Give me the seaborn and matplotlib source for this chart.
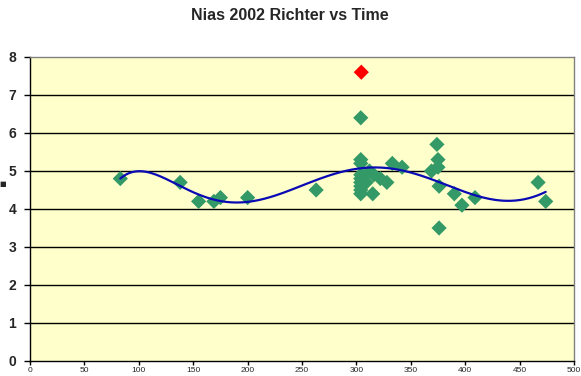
import numpy as np
import pandas as pd
import seaborn as sns
import matplotlib.pyplot as plt

# data
days = [83, 138, 155, 169, 175, 200, 263,
        304, 304, 304, 304, 304, 304, 304, 304, 304,
        309, 312, 315, 316, 322, 328, 333, 342,
        369, 374, 375, 375, 376, 376, 390, 397, 409, 467, 474]
richter = [4.8, 4.7, 4.2, 4.2, 4.3, 4.3, 4.5,
           6.4, 5.3, 5.2, 4.9, 4.8, 4.7, 4.6, 4.5, 4.4,
           4.7, 5.0, 4.4, 4.9, 4.8, 4.7, 5.2, 5.1,
           5.0, 5.7, 5.3, 5.1, 4.6, 3.5, 4.4, 4.1, 4.3, 4.7, 4.2]
main_day = [304.5]
main_richter = [7.6]

df = pd.DataFrame({"day": days, "richter": richter})
mdf = pd.DataFrame({"day": main_day, "richter": main_richter})

# polynomial trendline (order 6) over all points
allx = np.array(days + main_day, dtype=float)
ally = np.array(richter + main_richter, dtype=float)
coef = np.polyfit(allx / 100, ally, 6)
tx = np.linspace(allx.min(), allx.max(), 300)
tdf = pd.DataFrame({"day": tx, "richter": np.polyval(coef, tx / 100)})

sns.set_style("white")
plt.rcParams["font.family"] = ["Liberation Sans", "DejaVu Sans"]

fig = plt.figure(figsize=(5.81, 3.76), dpi=100)
ax = fig.add_axes([30 / 581, 1 - 361 / 376, 544 / 581, 304 / 376])
ax.set_facecolor("#FFFFCC")

for v in range(1, 8):
    ax.axhline(v, color="black", lw=1, zorder=1)

sns.lineplot(data=tdf, x="day", y="richter", ax=ax, color="#0A0AB4", lw=1.6, zorder=3)
sns.scatterplot(data=df, x="day", y="richter", ax=ax, marker="D", s=60,
                color="#339966", edgecolor="none", zorder=2)
sns.scatterplot(data=mdf, x="day", y="richter", ax=ax, marker="D", s=60,
                color="#FF0000", edgecolor="none", zorder=2)

ax.set_xlim(0, 500)
ax.set_ylim(0, 8)
ax.set_xticks(range(0, 501, 50))
ax.set_yticks(range(0, 9))
ax.set_xlabel("")
ax.set_ylabel("")
for side in ["top", "right"]:
    ax.spines[side].set_color("#808080")
    ax.spines[side].set_linewidth(1)
for side in ["left", "bottom"]:
    ax.spines[side].set_color("black")
    ax.spines[side].set_linewidth(1)
ax.tick_params(axis="both", direction="out", length=4, width=1, color="black", left=True, bottom=True)
ax.tick_params(axis="y", labelsize=10, pad=6)
ax.tick_params(axis="x", labelsize=6, pad=1, length=3)
for lab in ax.get_yticklabels():
    lab.set_fontweight("bold")

fig.text(290 / 581, 1 - 15 / 376, "Nias 2002 Richter vs Time", ha="center", va="center",
         fontsize=11.5, fontweight="bold")
fig.text(3 / 581, 1 - 184 / 376, "■", ha="center", va="center", fontsize=5, family="DejaVu Sans")

fig.savefig("out.png", dpi=100, facecolor="white")
